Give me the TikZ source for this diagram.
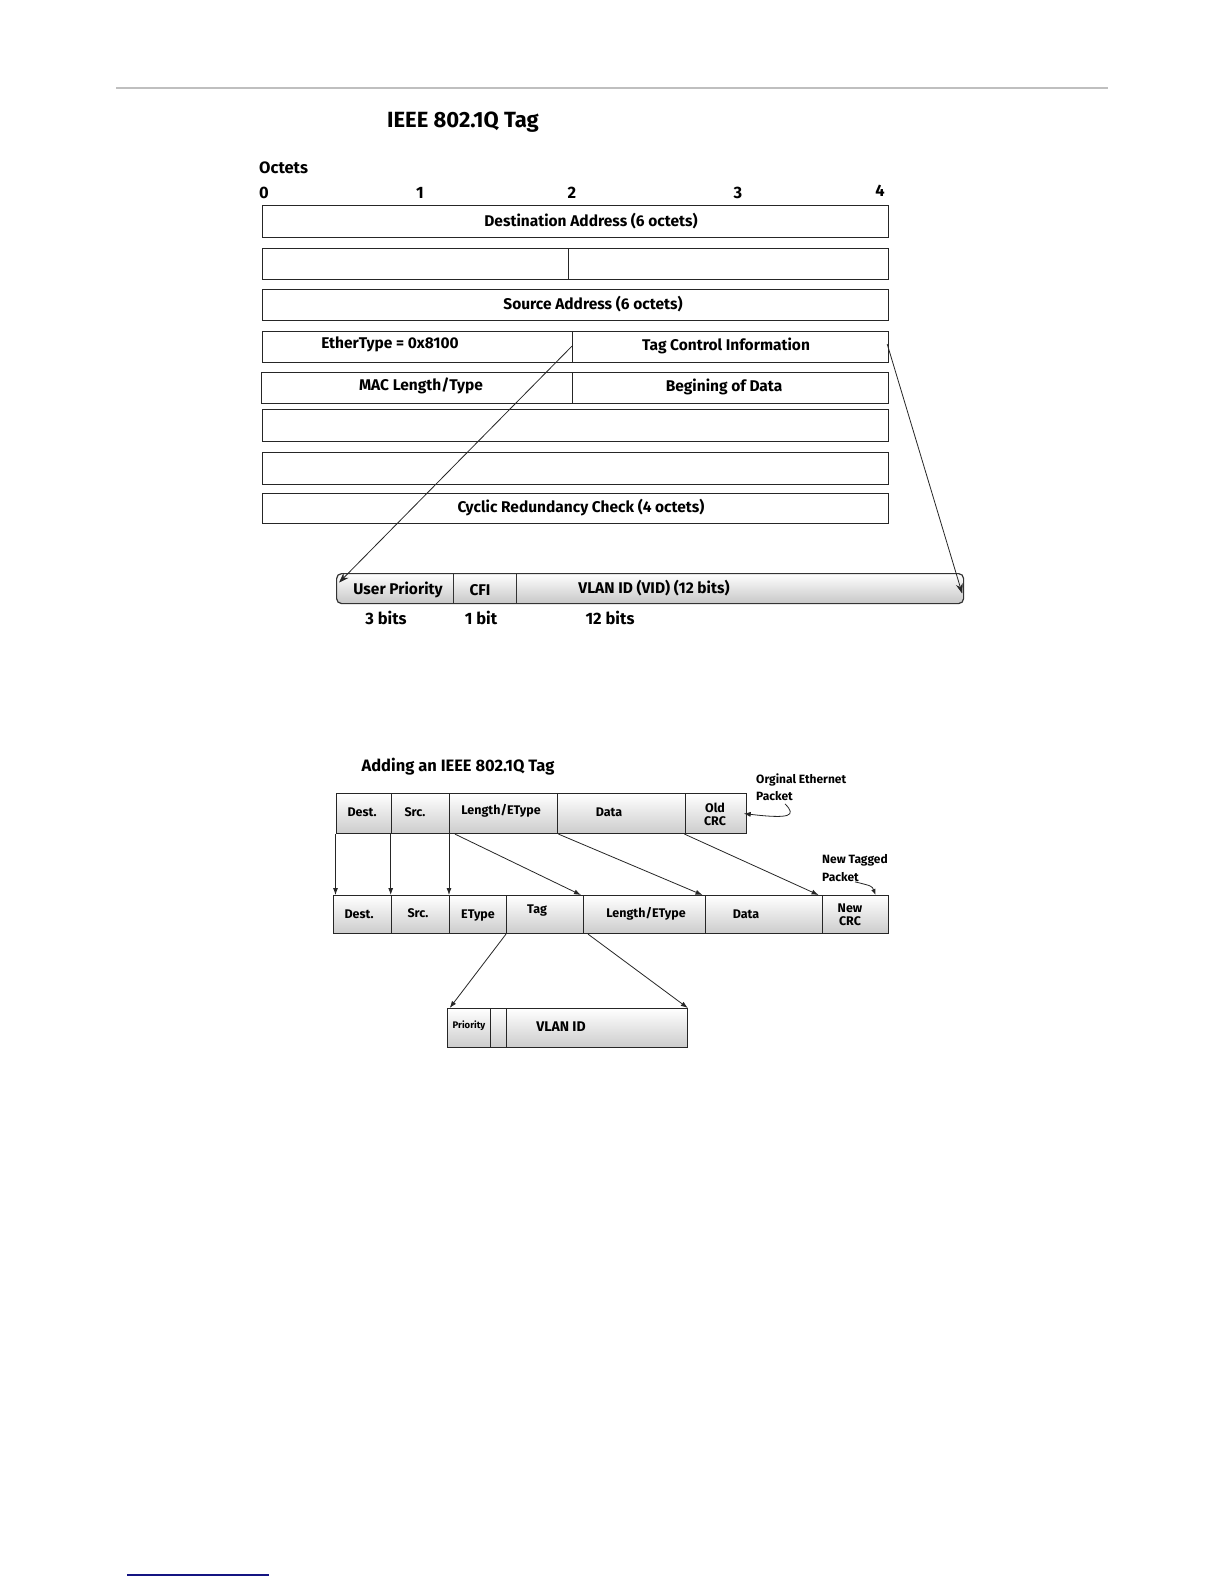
\documentclass[tikz,border=0pt]{standalone}
\usepackage{fontspec}
\setmainfont{Fira Sans}
\usetikzlibrary{arrows.meta,calc}
\definecolor{navyline}{RGB}{20,20,130}
\begin{document}
\begin{tikzpicture}[x=1pt,y=-1pt,
  cell/.style={draw=black!85,line width=1.2pt,inner sep=0pt,anchor=north west},
  lab/.style={inner sep=0pt,font=\bfseries\fontsize{15.5}{17}\selectfont},
  num/.style={inner sep=0pt,font=\bfseries\fontsize{16.5}{18}\selectfont},
  ttl/.style={inner sep=0pt,font=\bfseries\fontsize{22}{25}\selectfont},
  tagbar/.style={draw=black!80,line width=1.2pt,rounded corners=5pt,top color=white,bottom color=black!22,inner sep=0pt,anchor=north west},
  divl/.style={draw=black!80,line width=1.2pt},
  arr/.style={draw=black!85,line width=0.8pt,-{Stealth[length=10pt,width=7pt]}},
  pk/.style={draw=black!85,line width=1.1pt,top color=white,bottom color=black!20,inner sep=0pt,anchor=north west},
  plab/.style={inner sep=0pt,font=\bfseries\fontsize{12.5}{13}\selectfont},
  note/.style={inner sep=0pt,anchor=west,font=\bfseries\fontsize{12}{13}\selectfont},
  arr2/.style={draw=black!85,line width=0.8pt,-{Latex[length=7pt,width=5pt]}}]
\useasboundingbox (0,0) rectangle (1224,1584);
\fill[white] (0,0) rectangle (1224,1584);
% page rules
\draw[black!25,line width=1.2pt] (116,88) -- (1108,88);
\draw[navyline,line width=1.5pt] (127,1575) -- (269,1575);
% ---------- upper diagram ----------
\node[ttl] (title1) at (463,122) {IEEE 802.1Q Tag};
\node[num,anchor=west] (oct) at (259,168) {Octets};
\node[num] (n0) at (264,193) {0};
\node[num] (n1) at (420,193) {1};
\node[num] (n2) at (572,193) {2};
\node[num] (n3) at (738,193) {3};
\node[num] (n4) at (880,191) {4};
\node[cell,minimum width=626pt,minimum height=32pt] (r1) at (262,205) {};
\node[cell,minimum width=306pt,minimum height=31pt] (r2L) at (262,248) {};
\node[cell,minimum width=320pt,minimum height=31pt] (r2R) at (568,248) {};
\node[cell,minimum width=626pt,minimum height=31pt] (r3) at (262,289) {};
\node[cell,minimum width=310pt,minimum height=31pt] (r4L) at (262,331) {};
\node[cell,minimum width=316pt,minimum height=31pt] (r4R) at (572,331) {};
\node[cell,minimum width=311pt,minimum height=31pt] (r5L) at (261,372) {};
\node[cell,minimum width=316pt,minimum height=31pt] (r5R) at (572,372) {};
\node[cell,minimum width=626pt,minimum height=32pt] (r6) at (262,409) {};
\node[cell,minimum width=626pt,minimum height=32pt] (r7) at (262,452) {};
\node[cell,minimum width=626pt,minimum height=30pt] (r8) at (262,493) {};
\node[lab] (tDest) at (591,221) {Destination Address (6 octets)};
\node[lab] (tSrc) at (593,304) {Source Address (6 octets)};
\node[lab] (tEth) at (390,344) {EtherType = 0x8100};
\node[lab] (tTCI) at (726,346) {Tag Control Information};
\node[lab] (tMAC) at (421,386) {MAC Length/Type};
\node[lab] (tBeg) at (724,387) {Begining of Data};
\node[lab] (tCRC) at (581,508) {Cyclic Redundancy Check (4 octets)};
% tag bar
\node[tagbar,minimum width=627pt,minimum height=30pt] (tagbar) at (336,573) {};
\draw[divl] (453.6,573) -- (453.6,603);
\draw[divl] (516.7,573) -- (516.7,603);
\node[lab] (tUP) at (398,590) {User Priority};
\node[lab] (tCFI) at (480,590) {CFI};
\node[lab] (tVID) at (654,588) {VLAN ID (VID) (12 bits)};
\node[num] (b3b) at (386,618) {3 bits};
\node[num] (b1b) at (481,618) {1 bit};
\node[num] (b12b) at (610,618) {12 bits};
\draw[arr] ([yshift=1pt]r4R.west) -- ([shift={(3pt,6pt)}]tagbar.west);
\draw[arr] ([shift={(-2pt,3pt)}]r4R.east) -- ([shift={(-2pt,-5pt)}]tagbar.east);
% ---------- lower diagram ----------
\node[inner sep=0pt,font=\bfseries\fontsize{16.5}{18}\selectfont] (title2) at (458,767) {Adding an IEEE 802.1Q Tag};
% original packet
\node[pk,minimum width=55.2pt,minimum height=40pt] (a1) at (335.5,793) {};
\node[pk,minimum width=58.3pt,minimum height=40pt] (a2) at (390.7,793) {};
\node[pk,minimum width=107.5pt,minimum height=40pt] (a3) at (449,793) {};
\node[pk,minimum width=128pt,minimum height=40pt] (a4) at (556.5,793) {};
\node[pk,minimum width=61.1pt,minimum height=40pt] (a5) at (684.5,793) {};
\node[plab] (la1) at (362,812) {Dest.};
\node[plab] (la2) at (415,812) {Src.};
\node[plab] (la3) at (501,811) {Length/EType};
\node[plab] (la4) at (609,812) {Data};
\node[plab,align=center] (la5) at (715,814) {Old\\CRC};
% new packet
\node[pk,minimum width=58pt,minimum height=38pt] (b1) at (333,895) {};
\node[pk,minimum width=58pt,minimum height=38pt] (b2) at (391,895) {};
\node[pk,minimum width=57pt,minimum height=38pt] (b3) at (449,895) {};
\node[pk,minimum width=77pt,minimum height=38pt] (b4) at (506,895) {};
\node[pk,minimum width=121.5pt,minimum height=38pt] (b5) at (583,895) {};
\node[pk,minimum width=117.1pt,minimum height=38pt] (b6) at (704.5,895) {};
\node[pk,minimum width=65.9pt,minimum height=38pt] (b7) at (821.6,895) {};
\node[plab] (lb1) at (359,914) {Dest.};
\node[plab] (lb2) at (418,913) {Src.};
\node[plab] (lb3) at (478,916) {EType};
\node[plab] (lb4) at (537,911) {Tag};
\node[plab] (lb5) at (646,914) {Length/EType};
\node[plab] (lb6) at (746,914) {Data};
\node[plab,align=center] (lb7) at (850,915) {New\\CRC};
% tag detail
\node[pk,minimum width=43.3pt,minimum height=39pt] (c1) at (446.7,1008) {};
\node[pk,minimum width=15.7pt,minimum height=39pt] (c2) at (490,1008) {};
\node[pk,minimum width=181pt,minimum height=39pt] (c3) at (505.7,1008) {};
\node[inner sep=0pt,font=\bfseries\fontsize{9.5}{10}\selectfont] (lc1) at (469,1026) {Priority};
\node[inner sep=0pt,font=\bfseries\fontsize{14}{15}\selectfont] (lc3) at (561,1027) {VLAN ID};
% notes
\node[note] (orig1) at (756,780) {Orginal Ethernet};
\node[note] (orig2) at (756,796) {Packet};
\draw[arr2] ([shift={(-8pt,-3pt)}]orig2.south east) .. controls (797,816) and (790,819) .. ([xshift=-3pt]a5.east);
\node[note] (new1) at (822,860) {New Tagged};
\node[note] (new2) at (822,877) {Packet};
\draw[draw=black!85,line width=0.8pt,-{Latex[length=6pt,width=4.5pt]}] ([xshift=-4pt]new2.south east) .. controls (872,886) .. ([xshift=-13pt]b7.north east);
% connectors
\draw[arr2] (a1.south west) -- (a1.south west |- b1.north);
\draw[arr2] (a2.south west) -- (a2.south west |- b2.north);
\draw[arr2] (a3.south west) -- (a3.south west |- b3.north);
\draw[arr2] ([xshift=6pt]a3.south west) -- ([xshift=-2pt]b5.north west);
\draw[arr2] ([xshift=2pt]a4.south west) -- ([xshift=-2pt]b6.north west);
\draw[arr2] (a5.south west) -- ([xshift=-3pt]b7.north west);
\draw[arr2] (b4.south west) -- ([xshift=3pt]c1.north west);
\draw[arr2] ([xshift=5pt]b5.south west) -- (c3.north east);
\end{tikzpicture}
\end{document}
